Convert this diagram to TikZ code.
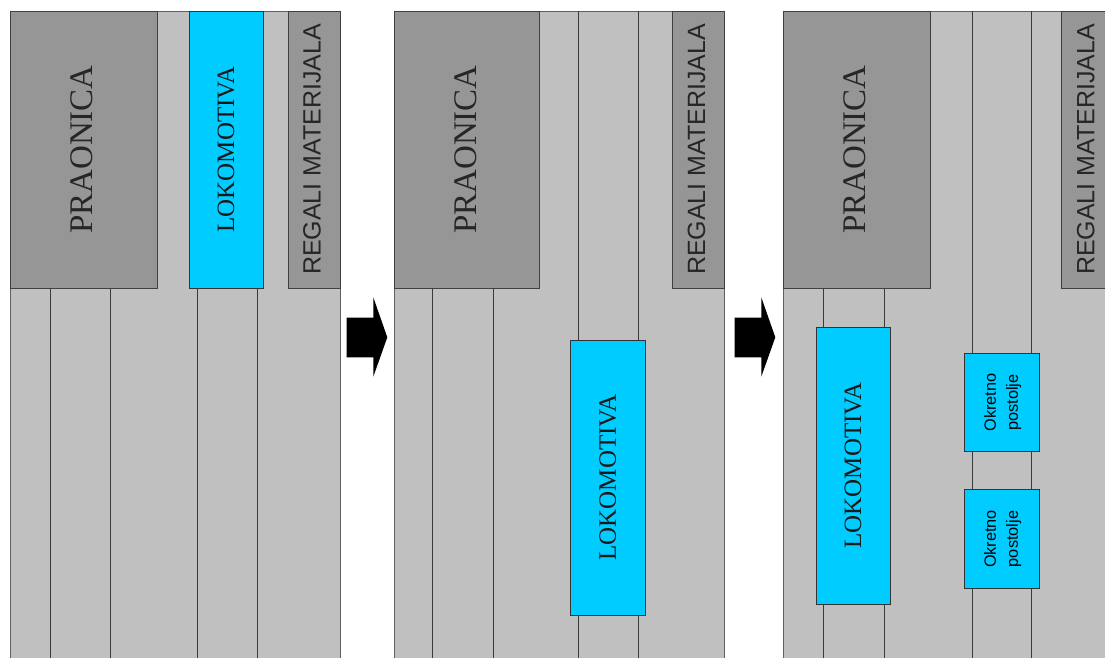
\documentclass[tikz,border=0pt]{standalone}
\usepackage{fontspec}
\setmainfont{Liberation Serif}
\newfontfamily\arialf{Liberation Sans}
\definecolor{floor}{HTML}{C0C0C0}
\definecolor{bldg}{HTML}{969696}
\definecolor{loco}{HTML}{00CCFF}
\definecolor{edge}{HTML}{606060}
\definecolor{trk}{HTML}{3A3A3A}
\begin{document}
\begin{tikzpicture}[x=1pt,y=-1pt,
  panel/.style={draw=edge,fill=floor,line width=0.9pt,rectangle,inner sep=0pt,outer sep=0pt},
  house/.style={draw=black!75,fill=bldg,line width=0.8pt,rectangle,inner sep=0pt,outer sep=0pt},
  locobox/.style={draw=black!80,fill=loco,line width=0.8pt,rectangle,inner sep=0pt,outer sep=0pt},
  track/.style={draw=trk,line width=0.8pt},
  bigserif/.style={rotate=90,font=\fontsize{33}{36}\selectfont,text=black!85},
  locotxt/.style={rotate=90,font=\fontsize{25}{28}\selectfont,text=black!90},
  regtxt/.style={rotate=90,font=\arialf\fontsize{25}{28}\selectfont,text=black!85},
  posttxt/.style={rotate=90,font=\arialf\fontsize{16.3}{22}\selectfont,align=center,text=black},
  flow/.style={fill=black,draw=none}]
\useasboundingbox (0,0) rectangle (1105,658);
\clip (0,0) rectangle (1105,658);
\fill[white] (0,0) rectangle (1105,658);

% ---------- panel 1 ----------
\node[panel,minimum width=330pt,minimum height=660pt,anchor=north west] (f1) at (10,11) {};
\coordinate (b1a) at (50,658); \coordinate (b1b) at (110,658);
\coordinate (b1c) at (197,658); \coordinate (b1d) at (257,658);
\node[house,minimum width=147pt,minimum height=277pt,anchor=north west] (pr1) at (10,11) {};
\node[locobox,minimum width=74pt,minimum height=277pt,anchor=north west] (lk1) at (189,11) {};
\node[house,minimum width=52pt,minimum height=277pt,anchor=north west] (rg1) at (288,11) {};
\draw[track] (pr1.south west -| b1a) -- (b1a);
\draw[track] (pr1.south west -| b1b) -- (b1b);
\draw[track] (lk1.south west -| b1c) -- (b1c);
\draw[track] (lk1.south west -| b1d) -- (b1d);
\node[bigserif] at ([xshift=-1.5pt]pr1.center) {PRAONICA};
\node[locotxt] at (lk1.center) {LOKOMOTIVA};
\node[regtxt] at ([xshift=-2pt]rg1.center) {REGALI MATERIJALA};

% arrow 1
\coordinate (ar1) at (346.7,317.7);
\fill[flow] (ar1) -- ++(26.6,0) -- ++(0,-20.4) -- ++(14,40) -- ++(-14,39.4) -- ++(0,-19.4) -- ++(-26.6,0) -- cycle;

% ---------- panel 2 ----------
\node[panel,minimum width=330pt,minimum height=660pt,anchor=north west] (f2) at (394.5,11) {};
\coordinate (b2a) at (432,658); \coordinate (b2b) at (493,658);
\coordinate (t2c) at (578.7,11); \coordinate (t2d) at (638,11);
\coordinate (b2c) at (578.7,658); \coordinate (b2d) at (638,658);
\node[house,minimum width=144.5pt,minimum height=277pt,anchor=north west] (pr2) at (394.5,11) {};
\node[house,minimum width=52pt,minimum height=277pt,anchor=north west] (rg2) at (672.5,11) {};
\draw[track] (pr2.south west -| b2a) -- (b2a);
\draw[track] (pr2.south west -| b2b) -- (b2b);
\draw[track] (t2c) -- (b2c);
\draw[track] (t2d) -- (b2d);
\node[locobox,minimum width=74.5pt,minimum height=275pt] (lk2) at (607.8,477.5) {};
\node[bigserif] at ([xshift=-1.5pt]pr2.center) {PRAONICA};
\node[locotxt] at (lk2.center) {LOKOMOTIVA};
\node[regtxt] at ([xshift=-2pt]rg2.center) {REGALI MATERIJALA};

% arrow 2
\coordinate (ar2) at (734.7,317.7);
\fill[flow] (ar2) -- ++(26.6,0) -- ++(0,-20.4) -- ++(14,40) -- ++(-14,39.4) -- ++(0,-19.4) -- ++(-26.6,0) -- cycle;

% ---------- panel 3 ----------
\node[panel,minimum width=330pt,minimum height=660pt,anchor=north west] (f3) at (783.3,11) {};
\coordinate (b3a) at (823,658); \coordinate (b3b) at (884,658);
\coordinate (t3c) at (972.3,11); \coordinate (t3d) at (1031.5,11);
\coordinate (b3c) at (972.3,658); \coordinate (b3d) at (1031.5,658);
\node[house,minimum width=146.7pt,minimum height=277pt,anchor=north west] (pr3) at (783.3,11) {};
\node[house,minimum width=52pt,minimum height=277pt,anchor=north west] (rg3) at (1061.7,11) {};
\draw[track] (pr3.south west -| b3a) -- (b3a);
\draw[track] (pr3.south west -| b3b) -- (b3b);
\draw[track] (t3c) -- (b3c);
\draw[track] (t3d) -- (b3d);
\node[locobox,minimum width=74pt,minimum height=277pt] (lk3) at (853,465.5) {};
\node[locobox,minimum width=74.7pt,minimum height=98.5pt] (ok1) at (1001.6,402.5) {};
\node[locobox,minimum width=74.7pt,minimum height=98.5pt] (ok2) at (1001.6,539) {};
\node[bigserif] at ([xshift=-1.5pt]pr3.center) {PRAONICA};
\node[locotxt] at (lk3.center) {LOKOMOTIVA};
\node[regtxt] at ([xshift=-2pt]rg3.center) {REGALI MATERIJALA};
\node[posttxt] at ([xshift=1pt]ok1.center) {Okretno\\postolje};
\node[posttxt] at ([xshift=1pt]ok2.center) {Okretno\\postolje};
\end{tikzpicture}
\end{document}
